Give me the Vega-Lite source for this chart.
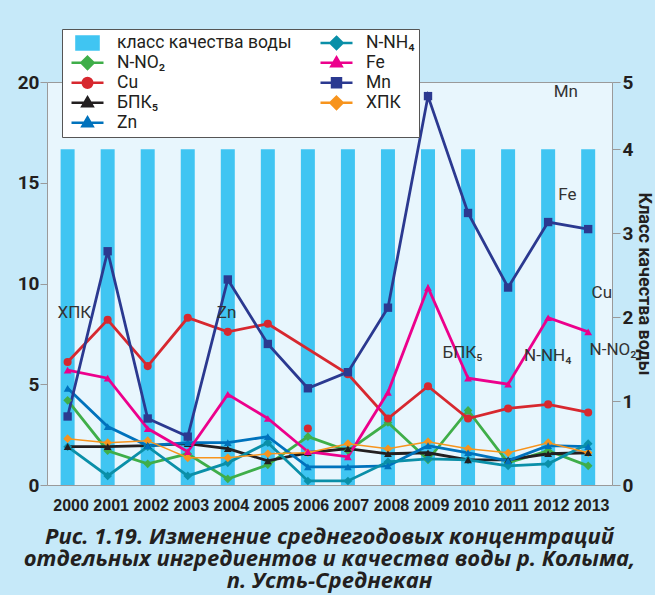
{
  "$schema": "https://vega.github.io/schema/vega-lite/v6.json",
  "width": 565,
  "height": 403,
  "autosize": "none",
  "padding": {"left": 47, "top": 82, "right": 43, "bottom": 110},
  "background": "#c6e9f9",
  "config": {
    "view": {"fill": "#e8f6fd", "stroke": "#9a9a9a", "strokeWidth": 1},
    "font": "Roboto"
  },
  "title": {
    "text": ["Рис. 1.19. Изменение среднегодовых концентраций", "отдельных ингредиентов и качества воды р. Колыма,", "п. Усть-Среднекан"],
    "orient": "bottom",
    "anchor": "middle",
    "frame": "group",
    "font": "Open Sans",
    "fontSize": 22,
    "fontWeight": "bold",
    "fontStyle": "italic",
    "lineHeight": 22,
    "color": "#231f20",
    "offset": 14
  },
  "datasets": {
    "klass": [
      {"year": 2000, "value": 4}, {"year": 2001, "value": 4}, {"year": 2002, "value": 4}, {"year": 2003, "value": 4},
      {"year": 2004, "value": 4}, {"year": 2005, "value": 4}, {"year": 2006, "value": 4}, {"year": 2007, "value": 4},
      {"year": 2008, "value": 4}, {"year": 2009, "value": 4}, {"year": 2010, "value": 4}, {"year": 2011, "value": 4},
      {"year": 2012, "value": 4}, {"year": 2013, "value": 4}
    ],
    "conc": [
      {"series": "N-NO₂", "year": 2000, "value": 4.2}, {"series": "N-NO₂", "year": 2001, "value": 1.7}, {"series": "N-NO₂", "year": 2002, "value": 1.05}, {"series": "N-NO₂", "year": 2003, "value": 1.55}, {"series": "N-NO₂", "year": 2004, "value": 0.3}, {"series": "N-NO₂", "year": 2005, "value": 1.0}, {"series": "N-NO₂", "year": 2006, "value": 2.4}, {"series": "N-NO₂", "year": 2007, "value": 1.7}, {"series": "N-NO₂", "year": 2008, "value": 3.1}, {"series": "N-NO₂", "year": 2009, "value": 1.25}, {"series": "N-NO₂", "year": 2010, "value": 3.7}, {"series": "N-NO₂", "year": 2011, "value": 1.1}, {"series": "N-NO₂", "year": 2012, "value": 1.7}, {"series": "N-NO₂", "year": 2013, "value": 0.95},
      {"series": "Cu", "year": 2000, "value": 6.1}, {"series": "Cu", "year": 2001, "value": 8.2}, {"series": "Cu", "year": 2002, "value": 5.9}, {"series": "Cu", "year": 2003, "value": 8.3}, {"series": "Cu", "year": 2004, "value": 7.6}, {"series": "Cu", "year": 2005, "value": 8.0}, {"series": "Cu", "year": 2006, "value": 2.8}, {"series": "Cu", "year": 2007, "value": 5.5}, {"series": "Cu", "year": 2008, "value": 3.3}, {"series": "Cu", "year": 2009, "value": 4.9}, {"series": "Cu", "year": 2010, "value": 3.3}, {"series": "Cu", "year": 2011, "value": 3.8}, {"series": "Cu", "year": 2012, "value": 4.0}, {"series": "Cu", "year": 2013, "value": 3.6},
      {"series": "БПК₅", "year": 2000, "value": 1.9}, {"series": "БПК₅", "year": 2001, "value": 1.9}, {"series": "БПК₅", "year": 2002, "value": 1.95}, {"series": "БПК₅", "year": 2003, "value": 2.05}, {"series": "БПК₅", "year": 2004, "value": 1.8}, {"series": "БПК₅", "year": 2005, "value": 1.2}, {"series": "БПК₅", "year": 2006, "value": 1.6}, {"series": "БПК₅", "year": 2007, "value": 1.8}, {"series": "БПК₅", "year": 2008, "value": 1.55}, {"series": "БПК₅", "year": 2009, "value": 1.6}, {"series": "БПК₅", "year": 2010, "value": 1.25}, {"series": "БПК₅", "year": 2011, "value": 1.25}, {"series": "БПК₅", "year": 2012, "value": 1.55}, {"series": "БПК₅", "year": 2013, "value": 1.6},
      {"series": "Zn", "year": 2000, "value": 4.8}, {"series": "Zn", "year": 2001, "value": 2.9}, {"series": "Zn", "year": 2002, "value": 1.95}, {"series": "Zn", "year": 2003, "value": 2.1}, {"series": "Zn", "year": 2004, "value": 2.1}, {"series": "Zn", "year": 2005, "value": 2.4}, {"series": "Zn", "year": 2006, "value": 0.9}, {"series": "Zn", "year": 2007, "value": 0.9}, {"series": "Zn", "year": 2008, "value": 0.95}, {"series": "Zn", "year": 2009, "value": 1.95}, {"series": "Zn", "year": 2010, "value": 1.6}, {"series": "Zn", "year": 2011, "value": 1.2}, {"series": "Zn", "year": 2012, "value": 1.95}, {"series": "Zn", "year": 2013, "value": 1.9},
      {"series": "N-NH₄", "year": 2000, "value": 1.9}, {"series": "N-NH₄", "year": 2001, "value": 0.45}, {"series": "N-NH₄", "year": 2002, "value": 1.9}, {"series": "N-NH₄", "year": 2003, "value": 0.45}, {"series": "N-NH₄", "year": 2004, "value": 1.1}, {"series": "N-NH₄", "year": 2005, "value": 2.1}, {"series": "N-NH₄", "year": 2006, "value": 0.2}, {"series": "N-NH₄", "year": 2007, "value": 0.2}, {"series": "N-NH₄", "year": 2008, "value": 1.15}, {"series": "N-NH₄", "year": 2009, "value": 1.3}, {"series": "N-NH₄", "year": 2010, "value": 1.25}, {"series": "N-NH₄", "year": 2011, "value": 0.95}, {"series": "N-NH₄", "year": 2012, "value": 1.05}, {"series": "N-NH₄", "year": 2013, "value": 2.05},
      {"series": "Fe", "year": 2000, "value": 5.7}, {"series": "Fe", "year": 2001, "value": 5.3}, {"series": "Fe", "year": 2002, "value": 2.8}, {"series": "Fe", "year": 2003, "value": 1.65}, {"series": "Fe", "year": 2004, "value": 4.5}, {"series": "Fe", "year": 2005, "value": 3.3}, {"series": "Fe", "year": 2006, "value": 1.65}, {"series": "Fe", "year": 2007, "value": 1.4}, {"series": "Fe", "year": 2008, "value": 4.6}, {"series": "Fe", "year": 2009, "value": 9.8}, {"series": "Fe", "year": 2010, "value": 5.3}, {"series": "Fe", "year": 2011, "value": 5.0}, {"series": "Fe", "year": 2012, "value": 8.3}, {"series": "Fe", "year": 2013, "value": 7.6},
      {"series": "Mn", "year": 2000, "value": 3.4}, {"series": "Mn", "year": 2001, "value": 11.6}, {"series": "Mn", "year": 2002, "value": 3.3}, {"series": "Mn", "year": 2003, "value": 2.4}, {"series": "Mn", "year": 2004, "value": 10.2}, {"series": "Mn", "year": 2005, "value": 7.0}, {"series": "Mn", "year": 2006, "value": 4.8}, {"series": "Mn", "year": 2007, "value": 5.6}, {"series": "Mn", "year": 2008, "value": 8.8}, {"series": "Mn", "year": 2009, "value": 19.3}, {"series": "Mn", "year": 2010, "value": 13.5}, {"series": "Mn", "year": 2011, "value": 9.8}, {"series": "Mn", "year": 2012, "value": 13.05}, {"series": "Mn", "year": 2013, "value": 12.7},
      {"series": "ХПК", "year": 2000, "value": 2.3}, {"series": "ХПК", "year": 2001, "value": 2.1}, {"series": "ХПК", "year": 2002, "value": 2.2}, {"series": "ХПК", "year": 2003, "value": 1.35}, {"series": "ХПК", "year": 2004, "value": 1.35}, {"series": "ХПК", "year": 2005, "value": 1.55}, {"series": "ХПК", "year": 2006, "value": 1.6}, {"series": "ХПК", "year": 2007, "value": 2.05}, {"series": "ХПК", "year": 2008, "value": 1.8}, {"series": "ХПК", "year": 2009, "value": 2.15}, {"series": "ХПК", "year": 2010, "value": 1.8}, {"series": "ХПК", "year": 2011, "value": 1.6}, {"series": "ХПК", "year": 2012, "value": 2.1}, {"series": "ХПК", "year": 2013, "value": 1.6}
    ],
    "labels": [
      {"text": "ХПК", "year": 2000.17, "value": 8.54},
      {"text": "Zn", "year": 2003.97, "value": 8.54},
      {"text": "Mn", "year": 2012.44, "value": 19.5},
      {"text": "Fe", "year": 2012.48, "value": 14.4},
      {"text": "Cu", "year": 2013.34, "value": 9.53},
      {"text": "БПК₅", "year": 2009.86, "value": 6.55},
      {"text": "N-NH₄", "year": 2011.99, "value": 6.4},
      {"text": "N-NO₂", "year": 2013.62, "value": 6.7}
    ]
  },
  "encoding": {
    "x": {
      "field": "year", "type": "quantitative",
      "scale": {"domain": [1999.61, 2013.47], "nice": false, "zero": false},
      "axis": {
        "values": [2000, 2001, 2002, 2003, 2004, 2005, 2006, 2007, 2008, 2009, 2010, 2011, 2012, 2013],
        "format": "d", "title": null, "domain": false, "ticks": false, "grid": false,
        "labelPadding": 12, "labelFont": "Liberation Sans", "labelFontSize": 16, "labelFontWeight": "bold", "labelColor": "#231f20",
        "labelOffset": 3, "labelFlush": false, "labelOverlap": false
      }
    }
  },
  "layer": [
    {
      "data": {"name": "klass"},
      "mark": {"type": "bar", "size": 14, "color": "#40c5f2"},
      "encoding": {
        "y": {
          "field": "value", "type": "quantitative",
          "scale": {"domain": [0, 4.8], "nice": false},
          "axis": {
            "orient": "right", "values": [0, 1, 2, 3, 4, 4.8],
            "labelExpr": "datum.value > 4.5 ? '5' : datum.label",
            "title": "Класс качества воды",
            "titleFontSize": 18, "titleFontWeight": "bold", "titleColor": "#231f20", "titlePadding": 2,
            "domain": false, "grid": false, "tickSize": 8, "tickColor": "#9a9a9a",
            "labelFontSize": 19, "labelFontWeight": "bold", "labelColor": "#231f20", "labelPadding": 2
          }
        }
      }
    },
    {
      "encoding": {
        "y": {
          "field": "value", "type": "quantitative",
          "scale": {"domain": [0, 20], "nice": false},
          "axis": {
            "values": [0, 5, 10, 15, 20], "title": null, "domain": false, "grid": false,
            "tickSize": 7, "tickColor": "#9a9a9a",
            "labelFontSize": 19, "labelFontWeight": "bold", "labelColor": "#231f20", "labelPadding": 1
          }
        }
      },
      "layer": [
        {
          "data": {"values": []},
          "mark": {"type": "point", "filled": true, "opacity": 1, "size": 1024},
          "encoding": {
            "color": {"field": "series", "type": "nominal",
              "scale": {"domain": ["класс качества воды", "N-NO₂", "Cu", "БПК₅", "Zn", "N-NH₄", "Fe", "Mn", "ХПК"],
                "range": ["#40c5f2", "#3fae49", "#d7282f", "#231f20", "#0072bc", "#0a8fa8", "#ec008c", "#2b3990", "#f7941d"]},
              "legend": {
                "orient": "none", "legendX": 15, "legendY": -53, "columns": 2, "title": null,
                "fillColor": "#ffffff", "strokeColor": "#555555", "padding": 4,
                "symbolSize": 1024, "symbolStrokeWidth": 2.5, "symbolOffset": 4, "labelOffset": 12,
                "labelFontSize": 17.5, "labelColor": "#231f20", "labelLimit": 300,
                "clipHeight": 19.7, "rowPadding": 0, "columnPadding": 23,
                "encode": {"symbols": {"update": {
                  "fill": {"scale": "color", "field": "value"},
                  "stroke": {"scale": "color", "field": "value"},
                  "strokeWidth": {"value": 2.5},
                  "opacity": {"value": 1}
                }}}
              }
            },
            "shape": {"field": "series", "type": "nominal",
              "scale": {"domain": ["класс качества воды", "N-NO₂", "Cu", "БПК₅", "Zn", "N-NH₄", "Fe", "Mn", "ХПК"],
                "range": [
                  "M-0.69,-0.4H0.69V0.4H-0.69Z",
                  "M-1,0H1M0,-0.38L0.38,0L0,0.38L-0.38,0Z",
                  "M-1,0H1M0.3,0A0.3,0.3 0 1,1 -0.3,0A0.3,0.3 0 1,1 0.3,0Z",
                  "M-1,0H1M0,-0.34L0.32,0.22L-0.32,0.22Z",
                  "M-1,0H1M0,-0.34L0.32,0.22L-0.32,0.22Z",
                  "M-1,0H1M0,-0.38L0.38,0L0,0.38L-0.38,0Z",
                  "M-1,0H1M0,-0.34L0.32,0.22L-0.32,0.22Z",
                  "M-1,0H1M-0.28,-0.28H0.28V0.28H-0.28Z",
                  "M-1,0H1M0,-0.38L0.38,0L0,0.38L-0.38,0Z"
                ]}}
          }
        },
        {
          "data": {"name": "conc"},
          "transform": [{"filter": "datum.series !== 'ХПК' && !(datum.series === 'Cu' && datum.year === 2006)"}],
          "mark": {"type": "line", "strokeWidth": 2.8},
          "encoding": {"color": {"field": "series", "type": "nominal"}}
        },
        {
          "data": {"name": "conc"},
          "transform": [{"filter": "datum.series === 'ХПК'"}],
          "mark": {"type": "line", "strokeWidth": 1.5},
          "encoding": {"color": {"field": "series", "type": "nominal"}}
        },
        {
          "data": {"name": "conc"},
          "transform": [{"filter": {"field": "series", "oneOf": ["N-NO₂", "N-NH₄", "ХПК"]}}],
          "mark": {"type": "point", "shape": "diamond", "filled": true, "opacity": 1, "size": 75},
          "encoding": {"color": {"field": "series", "type": "nominal"}}
        },
        {
          "data": {"name": "conc"},
          "transform": [{"filter": {"field": "series", "oneOf": ["Cu"]}}],
          "mark": {"type": "point", "shape": "circle", "filled": true, "opacity": 1, "size": 65},
          "encoding": {"color": {"field": "series", "type": "nominal"}}
        },
        {
          "data": {"name": "conc"},
          "transform": [{"filter": {"field": "series", "oneOf": ["БПК₅", "Zn", "Fe"]}}],
          "mark": {"type": "point", "shape": "triangle-up", "filled": true, "opacity": 1, "size": 60},
          "encoding": {"color": {"field": "series", "type": "nominal"}}
        },
        {
          "data": {"name": "conc"},
          "transform": [{"filter": {"field": "series", "oneOf": ["Mn"]}}],
          "mark": {"type": "point", "shape": "square", "filled": true, "opacity": 1, "size": 70},
          "encoding": {"color": {"field": "series", "type": "nominal"}}
        },
        {
          "data": {"name": "labels"},
          "mark": {"type": "text", "fontSize": 17, "color": "#333333", "align": "center", "baseline": "middle", "clip": false},
          "encoding": {"text": {"field": "text", "type": "nominal"}}
        }
      ]
    }
  ],
  "resolve": {"scale": {"y": "independent"}, "axis": {"y": "independent"}}
}
